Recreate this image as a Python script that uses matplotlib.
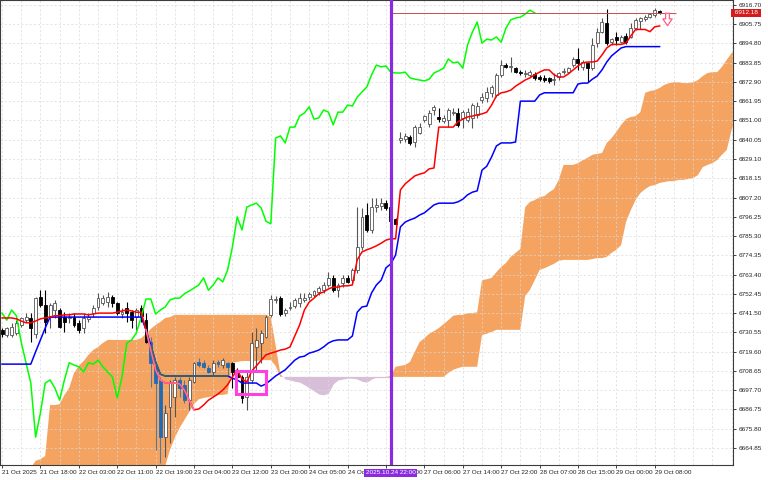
import matplotlib
matplotlib.use("Agg")
import matplotlib.pyplot as plt
import matplotlib.transforms as mtransforms
from matplotlib.patches import Rectangle
from matplotlib.path import Path
import numpy as np

# hourly bars, oldest first (bar 0 = 21 Oct 10:00)
OPEN = [
    6732.0, 6729.0, 6729.0, 6730.25, 6734.75, 6737.5, 6738.75, 6729.5, 6750.75, 6746.0,
    6739.25, 6743.25, 6743.25, 6739.25, 6738.75, 6739.25, 6736.0, 6733.0, 6738.25, 6741.5,
    6745.0, 6747.25, 6747.75, 6750.75, 6747.25, 6741.0, 6744.5, 6742.0, 6739.25, 6744.5,
    6737.5, 6725.0, 6711.0, 6703.5, 6671.0, 6688.0, 6693.75, 6703.5, 6700.75, 6692.0,
    6702.25, 6713.75, 6713.25, 6710.25, 6708.0, 6713.75, 6712.0, 6713.25, 6713.25, 6708.0,
    6705.25, 6693.75, 6703.5, 6722.25, 6724.5, 6728.0, 6740.5, 6749.0, 6750.0, 6741.5,
    6744.5, 6745.5, 6747.25, 6749.0, 6750.75, 6751.75, 6753.5, 6754.5, 6757.5, 6761.5,
    6754.5, 6758.5, 6761.5, 6760.25, 6766.0, 6779.0, 6797.25, 6788.75, 6801.75, 6802.5,
    6804.0, 6801.75, 6795.0, 6840.0, 6840.5, 6841.5, 6838.75, 6844.0, 6851.25, 6849.0,
    6857.0, 6853.0, 6850.75, 6851.25, 6855.25, 6855.25, 6852.5, 6851.25, 6852.5, 6854.25,
    6862.75, 6863.75, 6866.75, 6865.5, 6877.0, 6882.5, 6881.5, 6880.75, 6878.5, 6877.5,
    6876.75, 6877.5, 6875.75, 6875.25, 6875.25, 6874.0, 6875.75, 6878.5, 6878.5, 6882.5,
    6886.0, 6881.5, 6883.75, 6880.75, 6895.0, 6901.25, 6906.5, 6895.5, 6898.5, 6895.5,
    6899.0, 6898.5, 6903.5, 6907.5, 6908.75, 6909.75, 6911.0, 6913.25,
]
HIGH = [
    6733.0, 6733.5, 6736.0, 6737.5, 6739.25, 6741.5, 6741.5, 6750.75, 6754.5, 6754.5,
    6747.25, 6749.0, 6744.5, 6742.0, 6741.5, 6741.5, 6737.5, 6741.5, 6741.5, 6746.0,
    6753.0, 6751.75, 6753.5, 6751.75, 6747.75, 6744.5, 6747.75, 6743.25, 6744.5, 6746.0,
    6741.5, 6728.0, 6712.0, 6705.25, 6689.25, 6703.5, 6705.25, 6705.25, 6703.5, 6705.25,
    6713.75, 6716.0, 6714.75, 6712.0, 6714.75, 6714.75, 6716.0, 6713.75, 6713.75, 6710.25,
    6706.25, 6709.25, 6730.75, 6733.0, 6732.0, 6740.5, 6751.75, 6751.25, 6751.25, 6744.5,
    6747.75, 6750.0, 6753.0, 6753.0, 6753.5, 6754.5, 6757.0, 6759.25, 6765.0, 6763.25,
    6758.5, 6763.25, 6763.25, 6767.25, 6801.75, 6801.25, 6804.0, 6807.0, 6807.0, 6807.0,
    6805.75, 6803.0, 6795.5, 6844.5, 6844.0, 6842.75, 6848.5, 6849.5, 6854.25, 6857.0,
    6859.75, 6858.0, 6854.25, 6858.0, 6858.0, 6858.0, 6857.0, 6858.0, 6861.0, 6861.5,
    6866.75, 6870.0, 6871.25, 6878.0, 6885.5, 6883.75, 6887.0, 6881.5, 6879.75, 6879.75,
    6879.75, 6878.5, 6876.75, 6876.75, 6875.75, 6878.0, 6878.5, 6880.75, 6881.5, 6887.0,
    6892.25, 6885.5, 6884.25, 6898.0, 6903.5, 6909.25, 6914.5, 6898.0, 6901.25, 6899.5,
    6900.75, 6906.5, 6909.25, 6909.75, 6911.0, 6912.0, 6915.0, 6913.75,
]
LOW = [
    6728.0, 6728.0, 6728.0, 6729.0, 6733.5, 6736.5, 6725.0, 6727.25, 6745.0, 6730.25,
    6733.0, 6738.75, 6733.0, 6730.75, 6736.0, 6733.5, 6730.25, 6730.25, 6736.5, 6739.25,
    6743.25, 6746.0, 6745.0, 6745.0, 6740.5, 6738.75, 6736.5, 6733.0, 6732.0, 6736.5,
    6724.5, 6699.5, 6663.75, 6656.25, 6659.75, 6667.75, 6682.5, 6693.75, 6690.5, 6686.5,
    6701.75, 6711.0, 6710.25, 6707.5, 6706.25, 6711.0, 6710.25, 6706.25, 6699.0, 6703.5,
    6690.5, 6686.5, 6701.75, 6709.25, 6713.25, 6727.25, 6739.25, 6747.25, 6740.0, 6740.0,
    6743.25, 6744.5, 6745.0, 6747.75, 6749.0, 6750.75, 6751.75, 6753.0, 6756.25, 6753.5,
    6750.75, 6756.25, 6758.5, 6758.5, 6764.25, 6777.5, 6787.5, 6787.0, 6799.0, 6800.0,
    6800.0, 6792.75, 6791.5, 6838.25, 6838.75, 6837.0, 6836.0, 6843.25, 6850.25, 6847.25,
    6854.25, 6850.25, 6849.5, 6847.25, 6854.25, 6847.25, 6846.75, 6850.25, 6846.75, 6852.5,
    6861.0, 6861.5, 6864.25, 6864.25, 6875.75, 6880.75, 6878.5, 6878.0, 6876.75, 6875.75,
    6875.75, 6874.0, 6873.5, 6873.0, 6872.25, 6871.25, 6874.0, 6877.5, 6878.0, 6881.5,
    6879.75, 6879.75, 6873.0, 6879.75, 6892.75, 6900.75, 6894.0, 6894.0, 6894.0, 6895.0,
    6894.5, 6898.0, 6902.5, 6903.0, 6907.5, 6909.25, 6909.75, 6911.75,
]
CLOSE = [
    6729.5, 6733.0, 6733.5, 6736.0, 6738.75, 6739.25, 6733.0, 6750.0, 6746.0, 6736.5,
    6746.0, 6747.25, 6733.5, 6736.5, 6739.25, 6734.75, 6732.0, 6738.75, 6739.25, 6744.5,
    6750.0, 6750.0, 6750.75, 6747.25, 6741.5, 6742.0, 6741.5, 6737.5, 6743.25, 6740.0,
    6725.0, 6713.25, 6701.75, 6671.0, 6684.75, 6701.75, 6703.5, 6699.0, 6692.0, 6703.5,
    6713.25, 6712.0, 6711.0, 6708.0, 6713.25, 6712.5, 6714.75, 6711.0, 6708.0, 6705.25,
    6693.25, 6705.25, 6724.5, 6726.25, 6730.25, 6739.25, 6749.5, 6749.5, 6741.0, 6743.25,
    6745.0, 6749.0, 6750.0, 6750.0, 6752.5, 6754.0, 6755.75, 6757.5, 6761.5, 6754.5,
    6757.5, 6761.5, 6759.25, 6766.0, 6779.0, 6796.25, 6788.75, 6801.75, 6803.0, 6804.0,
    6801.25, 6793.75, 6792.25, 6841.0, 6842.25, 6838.25, 6847.25, 6847.25, 6853.5, 6855.25,
    6858.75, 6851.75, 6852.5, 6857.0, 6855.75, 6848.5, 6855.75, 6855.75, 6859.75, 6859.25,
    6864.25, 6867.25, 6870.0, 6877.0, 6882.5, 6881.5, 6882.0, 6878.5, 6878.0, 6878.0,
    6878.5, 6875.25, 6874.5, 6874.0, 6873.5, 6874.5, 6878.0, 6879.25, 6880.75, 6886.0,
    6883.75, 6884.25, 6880.75, 6894.0, 6901.25, 6907.0, 6895.0, 6897.25, 6896.75, 6898.5,
    6895.5, 6903.5, 6908.25, 6909.25, 6909.75, 6911.5, 6913.75, 6912.18,
]

TENKAN = [
    6738.75, 6738.75, 6738.75, 6738.25, 6737.0, 6736.0, 6736.0, 6737.0, 6738.25, 6738.75,
    6739.25, 6740.0, 6740.0, 6740.5, 6740.5, 6741.0, 6741.0, 6741.0, 6740.5, 6741.0,
    6741.5, 6741.5, 6741.5, 6741.5, 6742.0, 6742.75, 6743.25, 6742.75, 6742.0, 6742.0,
    6732.0, 6720.5, 6709.25, 6703.5, 6701.75, 6701.75, 6701.75, 6701.25, 6697.75, 6692.0,
    6686.5, 6687.0, 6689.25, 6692.0, 6693.75, 6695.5, 6697.75, 6700.75, 6705.25, 6709.25,
    6704.0, 6702.25, 6708.5, 6711.5, 6714.75, 6717.75, 6718.75, 6719.5, 6720.5, 6721.0,
    6722.25, 6728.5, 6734.75, 6743.25, 6747.75, 6750.0, 6752.5, 6753.5, 6755.25, 6756.25,
    6756.25, 6757.0, 6757.0, 6757.5, 6771.75, 6776.25, 6777.5, 6778.5, 6779.75, 6781.25,
    6783.0, 6783.75, 6783.75, 6811.5, 6815.0, 6817.25, 6819.5, 6820.5, 6821.25, 6823.5,
    6824.0, 6847.25, 6847.25, 6847.25, 6847.25, 6850.25, 6851.75, 6853.0, 6853.5, 6854.25,
    6854.75, 6855.75, 6859.75, 6865.0, 6866.75, 6867.25, 6868.25, 6870.5, 6872.25, 6874.0,
    6875.25, 6877.0, 6878.5, 6879.75, 6879.75, 6877.0, 6875.75, 6875.75, 6877.5, 6879.75,
    6882.0, 6883.75, 6884.25, 6884.25, 6884.75, 6888.25, 6892.25, 6894.25, 6894.25, 6894.25,
    6895.0, 6899.0, 6902.75, 6902.75, 6902.75, 6901.5, 6904.25, 6904.75,
]
KIJUN = (
    [6712.5] * 7 + [6719.5, 6726.25, 6733.0] + [6739.25] * 20
    + [6732.0, 6723.25, 6713.75, 6706.75] + [6705.75] * 14
    + [6704.5, 6703.5, 6701.75, 6701.75, 6701.75, 6701.75, 6700.0, 6701.25, 6703.5, 6705.75]
    + [6707.5, 6709.25, 6712.0, 6714.75, 6716.5, 6717.0, 6718.75, 6719.5, 6720.5, 6722.25, 6724.5, 6725.75]
    + [6726.25, 6726.25, 6726.25, 6728.5, 6742.0, 6745.0, 6745.5, 6753.0, 6757.5, 6760.25, 6767.25, 6769.5, 6774.5]
    + [6790.5, 6793.25, 6794.5, 6795.5, 6797.25, 6798.5, 6800.75, 6803.0, 6804.0, 6804.0, 6804.0, 6804.0, 6804.75]
    + [6806.25, 6808.75, 6810.25, 6811.0, 6822.75, 6825.0, 6830.25, 6836.5, 6838.25, 6838.25, 6838.25, 6838.75]
    + [6862.0] * 4 + [6865.5] + [6866.75] * 7
    + [6871.75, 6872.25, 6872.25, 6874.5, 6876.25, 6879.75, 6884.25, 6887.75, 6890.0, 6892.25]
    + [6893.0] * 8
)

# senkou spans, first value belongs to bar SPAN_START (already shifted forward)
SPAN_START = 6
SPAN_A = (
    [6653.5, 6657.5, 6658.5, 6660.25, 6689.25, 6689.25, 6689.75, 6695.0, 6699.0, 6707.5,
     6711.5, 6714.25, 6717.75, 6720.5, 6722.25, 6724.5] + [6726.25] * 7
    + [6727.25, 6729.75, 6732.5, 6734.75, 6736.5, 6738.75, 6739.25] + [6740.5] * 20
    + [6739.25, 6723.25, 6706.75, 6704.0, 6703.5, 6702.75, 6702.25, 6700.75, 6699.0, 6697.25,
       6695.5, 6695.0, 6696.0, 6701.25, 6703.5, 6704.0, 6704.5, 6704.5, 6704.0, 6702.75,
       6702.25, 6704.0, 6705.25, 6705.25, 6705.25, 6705.75]
    + [6711.0, 6711.5, 6712.0, 6713.75, 6719.5, 6725.0, 6727.25, 6729.75, 6731.25, 6733.0,
       6735.25, 6737.5, 6740.0, 6740.5, 6740.5, 6741.5, 6741.5, 6742.0]
    + [6760.25, 6760.75, 6761.5, 6764.75, 6767.75, 6770.0, 6773.5, 6775.75, 6778.0, 6801.75,
       6804.75, 6805.75, 6807.5, 6808.0, 6810.25, 6812.0, 6817.25]
    + [6825.75, 6825.75, 6825.75, 6826.75, 6828.5, 6829.75, 6831.5, 6832.0, 6832.5, 6838.25,
       6841.0, 6844.5, 6848.5, 6851.75, 6853.0, 6853.5, 6855.75]
    + [6866.75, 6867.75, 6868.25, 6869.5, 6871.25, 6872.25, 6872.75, 6872.75, 6872.25, 6872.25,
       6872.75, 6874.0, 6876.25, 6878.0, 6878.5, 6878.5, 6881.5, 6885.5, 6889.25, 6892.25]
)
SPAN_B = (
    [6648.0] * 27
    + [6652.25, 6654.5, 6663.75, 6670.5, 6676.25, 6680.75, 6685.25, 6689.75, 6692.5, 6693.25,
       6693.75, 6694.25, 6695.0, 6695.0, 6695.5]
    + [6713.25, 6713.75, 6714.25, 6714.25, 6714.25, 6714.25, 6714.75, 6714.75, 6714.75, 6711.5]
    + [6705.25] * 35
    + [6707.5, 6709.25, 6710.25, 6711.0, 6711.0, 6711.0, 6711.0]
    + [6729.0, 6729.75, 6730.75] + [6732.0] * 6
    + [6751.25, 6754.75, 6760.25, 6766.0, 6767.0, 6768.25, 6769.5, 6771.25] + [6771.75] * 6
    + [6772.25, 6772.75, 6772.75, 6773.5, 6775.75, 6777.5, 6780.25]
    + [6793.25, 6800.0, 6805.75, 6809.75, 6812.0, 6813.75, 6814.25, 6815.5, 6816.0, 6816.5,
       6816.5, 6817.25, 6817.25, 6817.75, 6818.25, 6820.0, 6824.5, 6825.75, 6826.75, 6828.5,
       6831.5, 6834.25, 6845.5, 6851.25]
)
CHIKOU_SHIFT = 26

# second (highlighted) ichimoku copy drawn over 22 Oct evening
HL_TENKAN = (30, 40)
HL_KIJUN = (31, 47)
HL_BARS = (31, 47)

PRICE_TICKS = [6916.70, 6905.75, 6894.80, 6883.85, 6872.90, 6861.95, 6851.00, 6840.05,
               6829.10, 6818.15, 6807.20, 6796.25, 6785.30, 6774.35, 6763.40, 6752.45,
               6741.50, 6730.55, 6719.60, 6708.65, 6697.70, 6686.75, 6675.80, 6664.85]
TIME_TICKS = [0, 8, 16, 24, 32, 40, 48, 56, 64, 72, 80, 88, 96, 104, 112, 120, 128, 136]
TIME_LABELS = ["21 Oct 2025", "21 Oct 18:00", "22 Oct 03:00", "22 Oct 11:00", "22 Oct 19:00",
               "23 Oct 04:00", "23 Oct 12:00", "23 Oct 20:00", "24 Oct 05:00", "24 Oct 13:00",
               "24 Oct 21:00", "27 Oct 06:00", "27 Oct 14:00", "27 Oct 22:00", "28 Oct 07:00",
               "28 Oct 15:00", "29 Oct 00:00", "29 Oct 08:00"]

VLINE_BAR = 81
VLINE_LABEL = "2025.10.24 22:00"
BOX_BARS = (48.75, 55.0)
BOX_PRICES = (6695.5, 6708.5)
BID_BARS = (81, 140.4)
ARROW_BAR, ARROW_PRICE = 138.5, 6908.7

C_CLOUD_UP = "#F4A460"
C_CLOUD_DN = "#D8BFD8"

plt.rcParams["font.family"] = ["Liberation Sans", "DejaVu Sans"]

fig = plt.figure(figsize=(7.68, 4.8), dpi=100)
fig.patch.set_facecolor("white")
ax = fig.add_axes([0.0, 15 / 480, 733 / 768, 465 / 480])
ax.set_xlim(-0.42, 152.3)
ax.set_ylim(6655.15, 6919.5)

# grid
ax.set_xticks(np.arange(0, 153, 4), minor=True)
ax.grid(which="both", axis="x", color="#d9d9d9", lw=0.5, ls=(0, (3, 3)), zorder=0)
ax.grid(which="major", axis="y", color="#d9d9d9", lw=0.5, ls=(0, (3, 3)), zorder=0)

# cloud
sx = np.arange(SPAN_START, SPAN_START + len(SPAN_A))
sa = np.array(SPAN_A)
sb = np.array(SPAN_B)
ax.fill_between(sx, sa, sb, where=sa >= sb, interpolate=True, color=C_CLOUD_UP, lw=0, zorder=1)
ax.fill_between(sx, sa, sb, where=sa < sb, interpolate=True, color=C_CLOUD_DN, lw=0, zorder=1)
# span B line only shows where it is the cloud top
sb_top = np.where(sb >= sa - 1.0, sb, np.nan)
ax.plot(sx, sb_top, color=C_CLOUD_DN, lw=0.9, zorder=1.2)

# candles
x = np.arange(len(CLOSE))
o, h, l, c = (np.array(v) for v in (OPEN, HIGH, LOW, CLOSE))
up = c >= o
hl = (x >= HL_BARS[0]) & (x <= HL_BARS[1])
blue = ~up & hl
black = ~up & ~hl
bottom = np.minimum(o, c)
height = np.maximum(np.abs(c - o), 0.35)
for mask, wick, face, edge in [(up, "#555555", "white", "#555555"),
                               (black, "#000000", "#000000", "#000000"),
                               (blue, "#5a7896", "#1f6bb5", "#1f6bb5")]:
    ax.vlines(x[mask], l[mask], h[mask], color=wick, lw=0.8, zorder=3)
    ax.bar(x[mask], height[mask], bottom=bottom[mask], width=0.62,
           facecolor=face, edgecolor=edge, lw=0.6, zorder=4)

# ichimoku lines
ax.plot(x[:-CHIKOU_SHIFT], c[CHIKOU_SHIFT:], color="#00FF00", lw=1.1, zorder=5)
ax.plot(x, KIJUN, color="#0000FF", lw=1.1, zorder=5)
ax.plot(x, TENKAN, color="#FF0000", lw=1.1, zorder=5)
k = np.array(KIJUN)
t = np.array(TENKAN)
a, b = HL_KIJUN
ax.plot(x[a:b + 1], k[a:b + 1], color="#2f6f60", lw=1.1, zorder=5.5)
a, b = HL_TENKAN
ax.plot(x[a:b + 1], t[a:b + 1], color="#ff6fa8", lw=1.1, zorder=5.5)

# objects
ax.add_patch(Rectangle((BOX_BARS[0], BOX_PRICES[0]), BOX_BARS[1] - BOX_BARS[0],
                       BOX_PRICES[1] - BOX_PRICES[0], fill=False, ec="#ff40e0", lw=2.2, zorder=7))
ax.hlines(c[-1], BID_BARS[0], BID_BARS[1], color="#c05050", lw=0.7, zorder=6)
arrow = Path([(-0.3, 1), (0.3, 1), (0.3, 0.1), (0.75, 0.1), (0, -1), (-0.75, 0.1), (-0.3, 0.1), (-0.3, 1)],
             [Path.MOVETO] + [Path.LINETO] * 6 + [Path.CLOSEPOLY])
ax.plot([ARROW_BAR], [ARROW_PRICE], marker=arrow, ms=9, mfc="white", mec="#ff6080", mew=0.9, zorder=7)
ax.axvline(VLINE_BAR, color="#8a2be2", lw=2.3, zorder=8)

# axes
for s in ax.spines.values():
    s.set_color("#3c3c3c")
    s.set_linewidth(0.8)
ax.yaxis.tick_right()
ax.set_yticks(PRICE_TICKS)
ax.set_yticklabels([f"{v:.2f}" for v in PRICE_TICKS])
ax.set_xticks(TIME_TICKS)
ax.set_xticklabels(TIME_LABELS)
for lbl in ax.get_xticklabels():
    lbl.set_horizontalalignment("left")
ax.tick_params(axis="both", which="major", labelsize=4.6, length=2.5, width=0.6,
               colors="#222222", pad=1.2)
ax.tick_params(axis="x", which="minor", length=0)

blend = mtransforms.blended_transform_factory(ax.transAxes, ax.transData)
ax.text(1.0, c[-1], f" {c[-1]:.2f} ", transform=blend, ha="left", va="center",
        fontsize=4.6, color="white", zorder=9, clip_on=False,
        bbox=dict(boxstyle="square,pad=0.25", fc="#d41c1c", ec="none"))
blend_x = mtransforms.blended_transform_factory(ax.transData, ax.transAxes)
ax.text(VLINE_BAR, -0.0165, VLINE_LABEL, transform=blend_x, ha="center", va="center",
        fontsize=4.6, color="white", zorder=9, clip_on=False,
        bbox=dict(boxstyle="square,pad=0.25", fc="#8a2be2", ec="none"))

fig.savefig("out.png", dpi=100, facecolor="white")
